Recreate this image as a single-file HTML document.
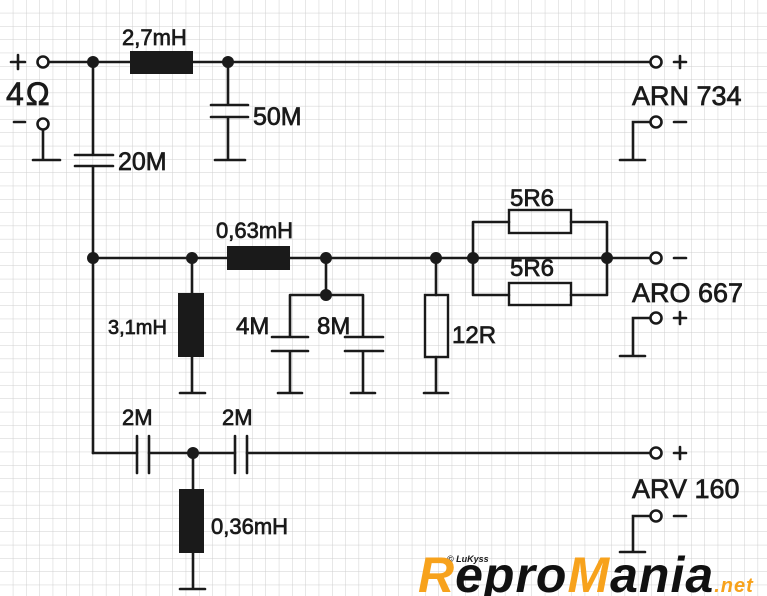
<!DOCTYPE html>
<html><head><meta charset="utf-8"><style>
html,body{margin:0;padding:0;background:#fff}
svg{display:block}
text{font-family:"Liberation Sans",sans-serif;fill:#1a1a1a}
.lb text{stroke:#1a1a1a;stroke-width:0.7}
</style></head><body>
<svg width="767" height="596" viewBox="0 0 767 596" xmlns="http://www.w3.org/2000/svg">
<defs>
<pattern id="g" width="13.3" height="13.3" patternUnits="userSpaceOnUse">
<path d="M13.3 0V13.3M0 13.3H13.3" fill="none" stroke="#cfcfcf" stroke-width="1"/>
</pattern>
</defs>
<rect width="767" height="596" fill="#fff"/>
<rect width="767" height="596" fill="url(#g)"/>
<g stroke="#1a1a1a" stroke-width="2.6" fill="none" stroke-linecap="round">
<path d="M49 62H130M193 62H651"/>
<path d="M228 62V105M228 117V160M215 160H245M211 105H248M211 117H248"/>
<path d="M43 129V160M33 160H60"/>
<path d="M93 62V155M93 166V453M75 155H113M75 166H113"/>
<path d="M633 160V122H651M620 160H645"/>
<path d="M93 258H227M290 258H473H651"/>
<path d="M192 258V293M192 357V393M180 393H205"/>
<path d="M326 258V295M290 295H363M290 295V337M363 295V337M272 337H308M272 351H308M345 337H383M345 351H383M290 351V393M363 351V393M278 393H302M351 393H375"/>
<path d="M436 258V295M436 357V393M424 393H448"/>
<rect x="425" y="295" width="23" height="62" stroke-width="2.4"/>
<path d="M473 222V295M473 222H509M571 222H607M473 295H509M571 295H607M607 222V295"/>
<rect x="509" y="210" width="62" height="23" stroke-width="2.4"/>
<rect x="509" y="283" width="62" height="22" stroke-width="2.4"/>
<path d="M633 356V318H651M620 356H645"/>
<path d="M93 453H137M149 453H235M247 453H651"/>
<path d="M137 436V473M149 436V473M235 436V473M247 436V473"/>
<path d="M193 453V489M193 553V589M180 589H205"/>
<path d="M633 552V516H651M620 552H645"/>
<circle cx="43" cy="62" r="5.5" fill="#fff"/>
<circle cx="43" cy="124" r="5.5" fill="#fff"/>
<circle cx="656" cy="62" r="5.5" fill="#fff"/>
<circle cx="656" cy="122" r="5.5" fill="#fff"/>
<circle cx="656" cy="258" r="5.5" fill="#fff"/>
<circle cx="656" cy="318" r="5.5" fill="#fff"/>
<circle cx="656" cy="453" r="5.5" fill="#fff"/>
<circle cx="656" cy="516" r="5.5" fill="#fff"/>
<path d="M11 62H25M18 55V69M14 122H25"/>
<path d="M674 62H686M680 56V68M674 122H686M674 258H686M674 318H686M680 312V324M674 453H686M680 447V459M674 516H686"/>
</g>
<g fill="#1a1a1a">
<rect x="130" y="51" width="63" height="23"/>
<rect x="227" y="246" width="63" height="24"/>
<rect x="178" y="293" width="26" height="64"/>
<rect x="179" y="489" width="25" height="64"/>
<circle cx="93" cy="62" r="6"/><circle cx="228" cy="62" r="6"/>
<circle cx="93" cy="258" r="6"/><circle cx="192" cy="258" r="6"/>
<circle cx="326" cy="258" r="6"/><circle cx="326" cy="295" r="6"/>
<circle cx="436" cy="258" r="6"/><circle cx="473" cy="258" r="6"/>
<circle cx="607" cy="258" r="6"/><circle cx="193" cy="453" r="6"/>
</g>
<g class="lb" font-size="22">
<text x="122" y="45">2,7mH</text>
<text x="253" y="125" font-size="25">50M</text>
<text x="118" y="170" font-size="25">20M</text>
<text x="6" y="105" font-size="32" letter-spacing="2">4Ω</text>
<text x="216" y="238">0,63mH</text>
<text x="108" y="334" font-size="20">3,1mH</text>
<text x="236" y="334" font-size="24">4M</text>
<text x="317" y="334" font-size="24">8M</text>
<text x="452" y="343" font-size="24">12R</text>
<text x="510" y="206" font-size="24">5R6</text>
<text x="510" y="276" font-size="24">5R6</text>
<text x="122" y="425" font-size="22">2M</text>
<text x="222" y="425" font-size="22">2M</text>
<text x="211" y="534" font-size="22">0,36mH</text>
<text x="632" y="105" font-size="27">ARN 734</text>
<text x="632" y="302" font-size="27">ARO 667</text>
<text x="632" y="498" font-size="27">ARV 160</text>
</g>
<g font-family="Liberation Serif,serif" font-style="italic" font-weight="bold">
<text x="447" y="562" font-size="9" style="font-family:'Liberation Sans',sans-serif">© LuKyss</text>
<text x="418" y="592" font-size="50" letter-spacing="1"><tspan fill="#f7a21c">R</tspan><tspan fill="#111">epro</tspan><tspan fill="#f7a21c">M</tspan><tspan fill="#111">ania</tspan><tspan fill="#f7a21c" font-size="20">.net</tspan></text>
</g>
</svg>
</body></html>
